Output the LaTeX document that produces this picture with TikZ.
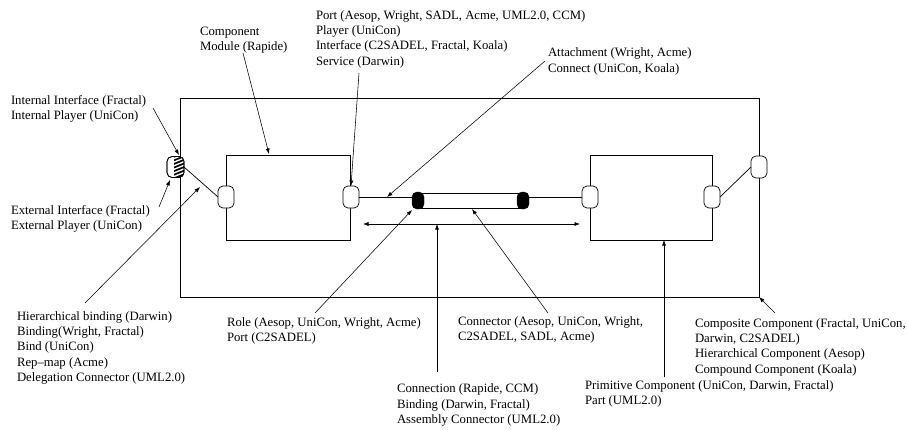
\documentclass[tikz,border=0pt]{standalone}
\usepackage{fontspec}
\setmainfont{Liberation Serif}
\usetikzlibrary{arrows.meta}
\begin{document}
\begin{tikzpicture}[x=1pt,y=-1pt,
  every node/.style={inner sep=0pt, outer sep=0pt},
  lbl/.style={anchor=base west, align=left, font=\fontsize{12.75}{15.3}\selectfont},
  portbox/.style={draw, line width=0.7pt, rounded corners=5pt, minimum width=16pt, minimum height=22pt, fill=white},
  compbox/.style={draw, line width=0.8pt},
  blackend/.style={draw, fill=black, rounded corners=5pt, minimum width=12pt, minimum height=17pt},
  lead/.style={-{Latex[length=5.5pt,width=4pt]}, line width=0.55pt},
  wire/.style={line width=0.7pt}]
\useasboundingbox (0,0) rectangle (907,429);

% boxes
\node[compbox, minimum width=579pt, minimum height=199pt] (outer) at (469.5,197.5) {};
\node[compbox, minimum width=124pt, minimum height=85pt] (lc) at (288,197.5) {};
\node[compbox, minimum width=122pt, minimum height=85pt] (rc) at (651,197.5) {};

% connector pipe
\node[draw, line width=0.7pt, minimum width=105pt, minimum height=15pt] (pipe) at (470.5,200.5) {};
\node[blackend] (bL) at (418,200.5) {};
\node[blackend] (bR) at (523,200.5) {};

% ports
\node[portbox] (pL1) at (226,197) {};
\node[portbox] (pL2) at (351,197) {};
\node[portbox] (pR1) at (590,197) {};
\node[portbox] (pR2) at (712,197) {};
\node[portbox] (pO) at (759,167) {};
\node[portbox, minimum width=17pt, minimum height=21pt] (pI) at (175.5,167) {};
\begin{scope}
  \clip[rounded corners=5pt] (167,156.5) rectangle (184,177.5);
  \clip (174,150) rectangle (190,185);
  \foreach \k in {-4,...,10} \draw[line width=1.7pt] (168,152+3.6*\k) -- (190,152+3.6*\k-9);
\end{scope}
\node[draw, line width=0.7pt, rounded corners=5pt, minimum width=17pt, minimum height=21pt] (pIb) at (175.5,167) {};

% wires
\draw[wire] (pL2.east) -- (pL2.east -| bL.west);
\draw[wire] (bR.east |- pR1.west) -- (pR1.west);
\draw[wire] (pI.east) -- (pL1.west);
\draw[wire] (pR2.east) -- (pO.west);
\coordinate (da1) at (363,224);
\coordinate (da2) at (580,224);
\draw[{Latex[length=5.5pt,width=4pt]}-{Latex[length=5.5pt,width=4pt]}, line width=0.6pt] (da1) -- (da2);

% labels (anchored at the baseline of their last line)
\node[lbl] (lInt) at (11,119.6) {Internal Interface (Fractal)\\Internal Player (UniCon)};
\node[lbl] (lExt) at (11,229.6) {External Interface (Fractal)\\External Player (UniCon)};
\node[lbl] (lHier) at (17,381.5) {Hierarchical binding (Darwin)\\Binding(Wright, Fractal)\\Bind (UniCon)\\Rep{\textendash}map (Acme)\\Delegation Connector (UML2.0)};
\node[lbl] (lComp) at (200,50.6) {Component\\Module (Rapide)};
\node[lbl] (lPort) at (316,65.2) {Port (Aesop, Wright, SADL, Acme, UML2.0, CCM)\\Player (UniCon)\\Interface (C2SADEL, Fractal, Koala)\\Service (Darwin)};
\node[lbl] (lAtt) at (548,72.1) {Attachment (Wright, Acme)\\Connect (UniCon, Koala)};
\node[lbl] (lRole) at (227,341.6) {Role (Aesop, UniCon, Wright, Acme)\\Port (C2SADEL)};
\node[lbl] (lConn) at (458,340.6) {Connector (Aesop, UniCon, Wright,\\C2SADEL, SADL, Acme)};
\node[lbl] (lCnx) at (397,423.5) {Connection (Rapide, CCM)\\Binding (Darwin, Fractal)\\Assembly Connector (UML2.0)};
\node[lbl] (lPrim) at (585,404.3) {Primitive Component (UniCon, Darwin, Fractal)\\Part (UML2.0)};
\node[lbl] (lCompo) at (695,373.2) {Composite Component (Fractal, UniCon,\\Darwin, C2SADEL)\\Hierarchical Component (Aesop)\\Compound Component (Koala)};

% leader lines
\coordinate (sInt) at (153,108); \coordinate (tInt) at (179,155);
\coordinate (sExt) at (159,207); \coordinate (tExt) at (170,180);
\coordinate (sHier) at (85,303); \coordinate (tHier) at (200,187);
\coordinate (sComp) at (243,53); \coordinate (tComp) at (269,154);
\coordinate (sPort) at (359,73);
\coordinate (sAtt) at (545,61); \coordinate (tAtt) at (387,197);
\coordinate (sRole) at (315,313); \coordinate (tRole) at (412,210);
\coordinate (sConn) at (548,313); \coordinate (tConn) at (472,209);
\coordinate (sCnx) at (437,372);
\coordinate (sPrim) at (664,377);
\coordinate (sCompo) at (775,313);
\draw[lead] (sInt) -- (tInt);
\draw[lead] (sExt) -- (tExt);
\draw[lead] (sHier) -- (tHier);
\draw[lead] (sComp) -- (tComp);
\draw[lead] (sPort) -- (pL2.north);
\draw[lead] (sAtt) -- (tAtt);
\draw[lead] (sRole) -- (tRole);
\draw[lead] (sConn) -- (tConn);
\draw[lead] (sCnx) -- (sCnx |- da1);
\draw[lead] (sPrim) -- (sPrim |- rc.south);
\draw[lead] (sCompo) -- (outer.south east);
\end{tikzpicture}
\end{document}
